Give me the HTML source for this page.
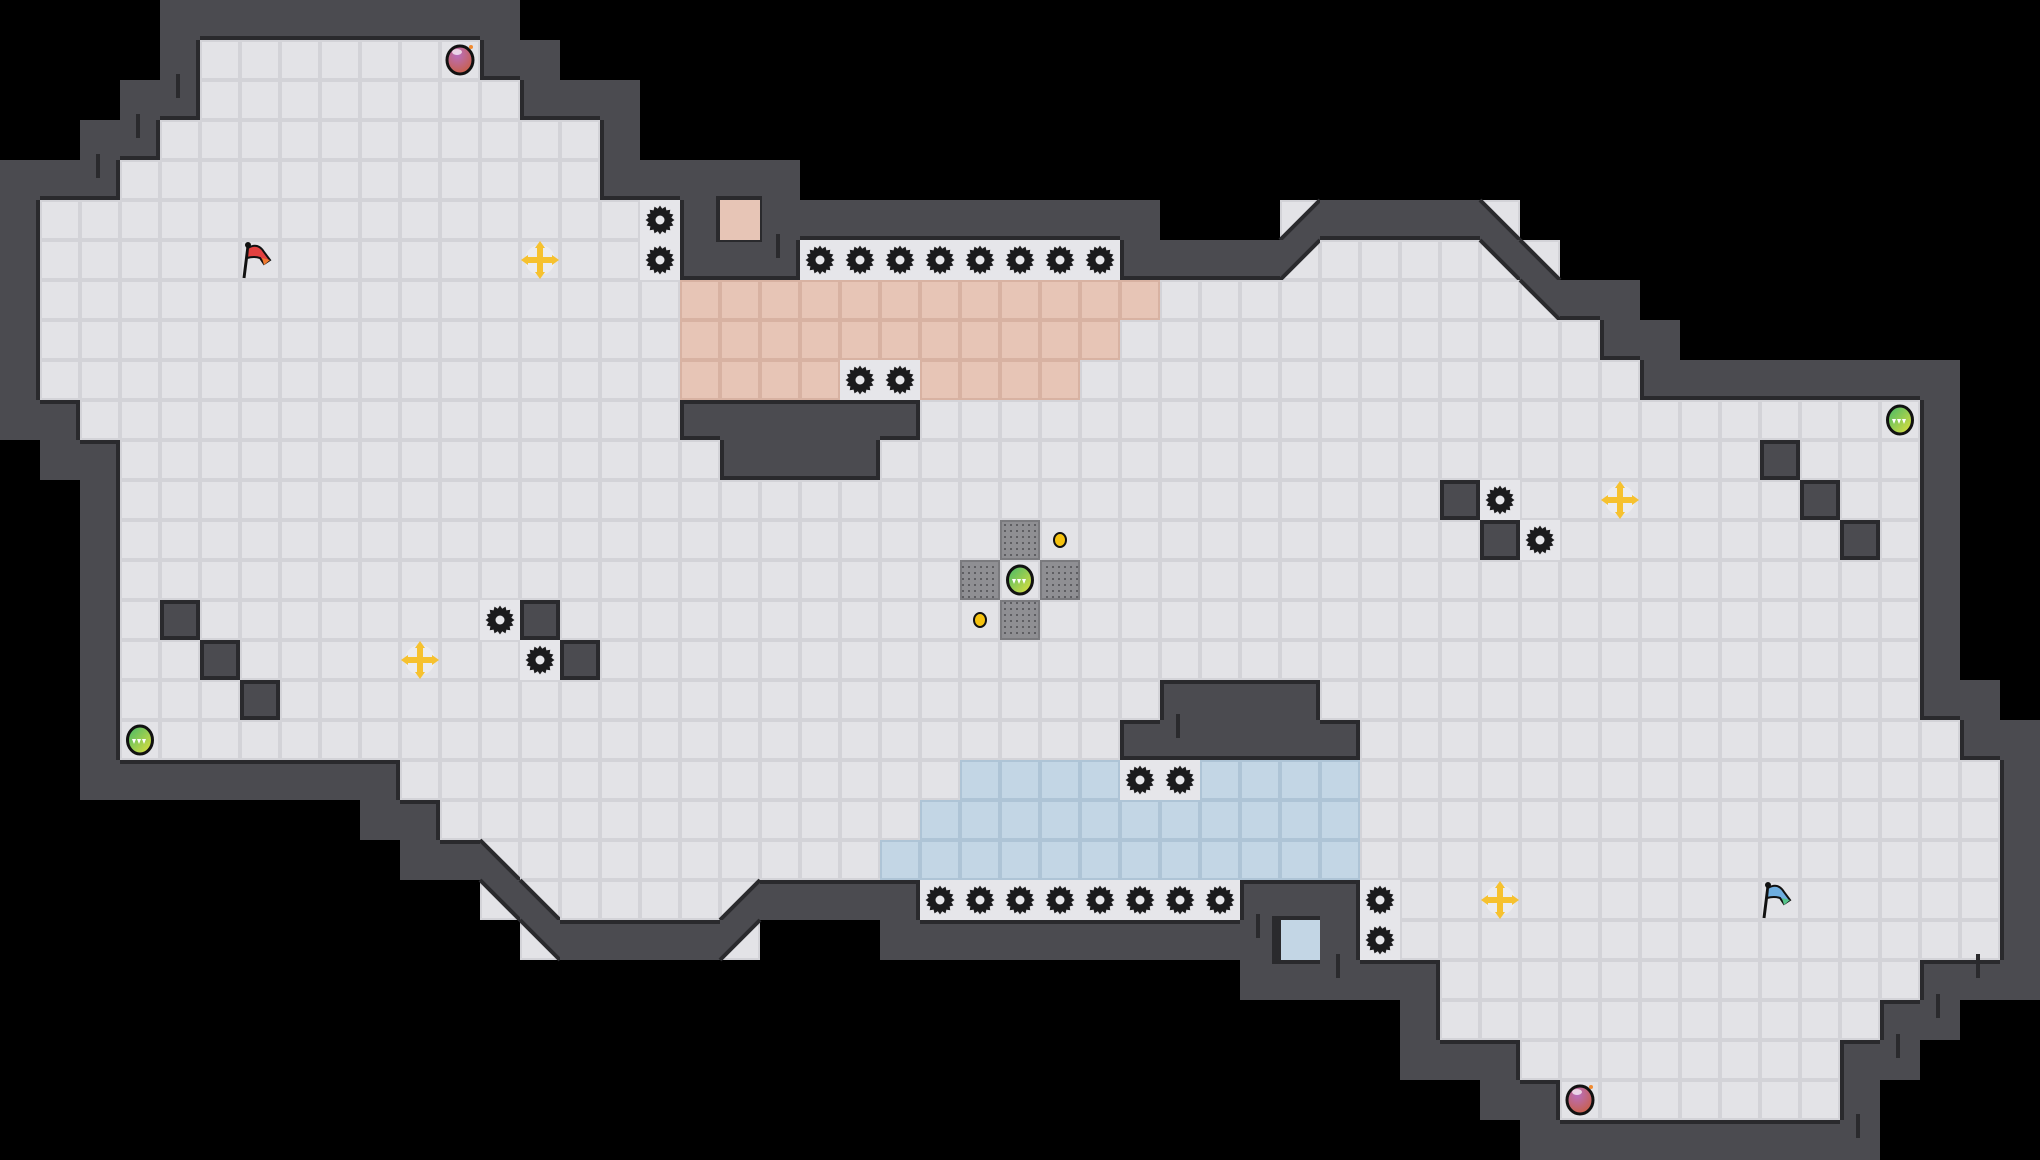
<!DOCTYPE html>
<html><head><meta charset="utf-8">
<style>
html,body{margin:0;padding:0;background:#000;}
#m{display:block;width:2040px;height:1160px;}
</style></head>
<body>
<div id="wrap"></div>
<script>
const W=51,H=29,S=40;
const g=[];for(let r=0;r<H;r++){g.push(new Array(W).fill(' '));}
function f(r,a,b,ch){for(let c=a;c<=b;c++)g[r][c]=ch;}
f(0,4,12,'#');
f(1,4,4,'#');f(1,5,11,'.');f(1,12,13,'#');
f(2,3,4,'#');f(2,5,12,'.');f(2,13,15,'#');
f(3,2,3,'#');f(3,4,14,'.');f(3,15,15,'#');
f(4,0,2,'#');f(4,3,14,'.');f(4,15,19,'#');
f(5,0,0,'#');f(5,1,16,'.');f(5,17,17,'#');f(5,18,18,'#');f(5,19,28,'#');g[5][32]='s';f(5,33,36,'#');g[5][37]='a';
f(6,0,0,'#');f(6,1,16,'.');f(6,17,19,'#');f(6,20,27,'.');f(6,28,31,'#');g[6][32]='q';f(6,33,36,'.');g[6][37]='w';g[6][38]='a';
f(7,0,0,'#');f(7,1,16,'.');f(7,17,28,'r');f(7,29,37,'.');g[7][38]='w';f(7,39,40,'#');
f(8,0,0,'#');f(8,1,16,'.');f(8,17,27,'r');f(8,28,39,'.');f(8,40,41,'#');
f(9,0,0,'#');f(9,1,16,'.');f(9,17,20,'r');f(9,21,22,'.');f(9,23,26,'r');f(9,27,40,'.');f(9,41,48,'#');
f(10,0,1,'#');f(10,2,16,'.');f(10,17,22,'#');f(10,23,47,'.');f(10,48,48,'#');
f(11,1,2,'#');f(11,3,17,'.');f(11,18,21,'#');f(11,22,47,'.');f(11,48,48,'#');g[11][44]='#';
for(let r=12;r<=16;r++){f(r,2,2,'#');f(r,3,47,'.');f(r,48,48,'#');}
g[12][36]='#';g[12][45]='#';g[13][37]='#';g[13][46]='#';g[15][4]='#';g[15][13]='#';g[16][5]='#';g[16][14]='#';
g[13][25]='d';g[14][24]='d';g[14][26]='d';g[15][25]='d';
f(17,2,2,'#');f(17,3,28,'.');f(17,29,32,'#');f(17,33,47,'.');f(17,48,49,'#');g[17][6]='#';
f(18,2,2,'#');f(18,3,27,'.');f(18,28,33,'#');f(18,34,48,'.');f(18,49,50,'#');
f(19,2,9,'#');f(19,10,23,'.');f(19,24,27,'b');f(19,28,29,'.');f(19,30,33,'b');f(19,34,49,'.');f(19,50,50,'#');
f(20,9,10,'#');f(20,11,22,'.');f(20,23,33,'b');f(20,34,49,'.');f(20,50,50,'#');
f(21,10,11,'#');g[21][12]='a';f(21,13,21,'.');f(21,22,33,'b');f(21,34,49,'.');f(21,50,50,'#');
g[22][12]='w';g[22][13]='a';f(22,14,17,'.');g[22][18]='s';f(22,19,22,'#');f(22,23,30,'.');f(22,31,33,'#');f(22,34,49,'.');f(22,50,50,'#');
g[23][13]='w';f(23,14,17,'#');g[23][18]='q';f(23,22,31,'#');g[23][32]='#';g[23][33]='#';f(23,34,49,'.');f(23,50,50,'#');
f(24,31,35,'#');f(24,36,47,'.');f(24,48,50,'#');
f(25,35,35,'#');f(25,36,46,'.');f(25,47,48,'#');
f(26,35,37,'#');f(26,38,45,'.');f(26,46,47,'#');
f(27,37,38,'#');f(27,39,45,'.');f(27,46,46,'#');
f(28,38,46,'#');

const WALL='#4b4b50',EDGE='#2a2a2d',FL='#e3e3e7';
let o=[];
o.push(`<svg id="m" xmlns="http://www.w3.org/2000/svg" width="2040" height="1160" viewBox="0 0 2040 1160">`);
o.push(`<defs><radialGradient id="pb" cx="40%" cy="30%" r="70%"><stop offset="0" stop-color="#b86fc0"/><stop offset="1" stop-color="#c9604a"/></radialGradient>
<linearGradient id="gb" x1="0" y1="0" x2="1" y2="1"><stop offset="0" stop-color="#3fb86a"/><stop offset="1" stop-color="#e8e03a"/></linearGradient>
<pattern id="dots" width="6" height="6" patternUnits="userSpaceOnUse"><rect width="6" height="6" fill="#8f8f93"/><rect x="2" y="2" width="2" height="2" fill="#5e5e62"/></pattern></defs>`);
o.push(`<rect width="2040" height="1160" fill="#000"/>`);
function tile(x,y,fill,edge){
  return `<rect x="${x}" y="${y}" width="40" height="40" fill="${fill}"/><rect x="${x+1}" y="${y+1}" width="38" height="38" fill="none" stroke="${edge}" stroke-width="2"/>`;
}
const isFloor=ch=>'.rbd'.includes(ch);
for(let r=0;r<H;r++)for(let c=0;c<W;c++){
  const ch=g[r][c],x=c*S,y=r*S;
  if(ch==='.')o.push(tile(x,y,FL,'#d3d3d8'));
  else if(ch==='r')o.push(tile(x,y,'#e7c5b6','#d8b2a2'));
  else if(ch==='b')o.push(tile(x,y,'#c3d6e5','#aec4d6'));
  else if(ch==='d')o.push(`<rect x="${x}" y="${y}" width="40" height="40" fill="url(#dots)"/><rect x="${x+1}" y="${y+1}" width="38" height="38" fill="none" stroke="#7a7a7e" stroke-width="2"/>`);
  else if(ch==='#'){
    o.push(`<rect x="${x}" y="${y}" width="40" height="40" fill="${WALL}"/>`);
  } else if('qwas'.includes(ch)){
    o.push(tile(x,y,FL,'#d3d3d8'));
    let p,l;
    if(ch==='q'){p=[[x,y],[x+S,y],[x,y+S]];l=[[x+S,y],[x,y+S]];}
    if(ch==='w'){p=[[x,y],[x+S,y],[x+S,y+S]];l=[[x,y],[x+S,y+S]];}
    if(ch==='a'){p=[[x,y],[x,y+S],[x+S,y+S]];l=[[x,y],[x+S,y+S]];}
    if(ch==='s'){p=[[x+S,y],[x+S,y+S],[x,y+S]];l=[[x+S,y],[x,y+S]];}
    o.push(`<polygon points="${p.map(a=>a.join(',')).join(' ')}" fill="${WALL}"/>`);
    o.push(`<line x1="${l[0][0]}" y1="${l[0][1]}" x2="${l[1][0]}" y2="${l[1][1]}" stroke="${EDGE}" stroke-width="4"/>`);
  }
}
for(let r=0;r<H;r++)for(let c=0;c<W;c++){
  if(g[r][c]!=='#')continue;const x=c*S,y=r*S;
  const n=(rr,cc)=>(rr>=0&&rr<H&&cc>=0&&cc<W)?g[rr][cc]:' ';
  if(isFloor(n(r-1,c)))o.push(`<rect x="${x}" y="${y}" width="40" height="4" fill="${EDGE}"/>`);
  if(isFloor(n(r+1,c)))o.push(`<rect x="${x}" y="${y+36}" width="40" height="4" fill="${EDGE}"/>`);
  if(isFloor(n(r,c-1)))o.push(`<rect x="${x}" y="${y}" width="4" height="40" fill="${EDGE}"/>`);
  if(isFloor(n(r,c+1)))o.push(`<rect x="${x+36}" y="${y}" width="4" height="40" fill="${EDGE}"/>`);
}
// inset peach / blue cells
o.push(`<rect x="716" y="196" width="46" height="46" fill="${EDGE}"/><rect x="720" y="200" width="40" height="40" fill="#e7c5b6"/>`);
o.push(`<rect x="1272" y="916" width="48" height="48" fill="${EDGE}"/><rect x="1281" y="920" width="39" height="40" fill="#c3d6e5"/>`);
// wall tick marks
[[176,74],[136,114],[96,154],[776,234],[1176,714],[1256,914],[1336,954],[1976,954],[1936,994],[1896,1034],[1856,1114]].forEach(p=>{
  o.push(`<rect x="${p[0]}" y="${p[1]}" width="4" height="24" fill="${EDGE}"/>`);
});
function gear(r,c){
  const cx=c*S+20,cy=r*S+20;let pts=[];const n=16;
  for(let i=0;i<n*2;i++){const a=Math.PI*i/n;const rad=i%2?11.5:14.5;pts.push((cx+rad*Math.cos(a)).toFixed(1)+','+(cy+rad*Math.sin(a)).toFixed(1));}
  o.push(`<rect x="${c*S}" y="${r*S}" width="40" height="40" fill="#e6e6ea"/><polygon points="${pts.join(' ')}" fill="#1b1b1d"/><circle cx="${cx}" cy="${cy}" r="4.5" fill="#e6e6ea"/>`);
}
[[5,16],[6,16],[9,21],[9,22],[12,37],[13,38],[15,12],[16,13],[19,28],[19,29],[22,34],[23,34]].forEach(a=>gear(a[0],a[1]));
for(let c=20;c<=27;c++)gear(6,c);
for(let c=23;c<=30;c++)gear(22,c);
function cross(r,c){
  const cx=c*S+20,cy=r*S+20;
  o.push(`<g fill="#f6c12e"><circle cx="${cx}" cy="${cy}" r="15" fill="#eeeef0" opacity="0.8"/><rect x="${cx-3}" y="${cy-14}" width="6" height="28"/><rect x="${cx-14}" y="${cy-3}" width="28" height="6"/>
  <polygon points="${cx},${cy-19} ${cx-5},${cy-12} ${cx+5},${cy-12}"/><polygon points="${cx},${cy+19} ${cx-5},${cy+12} ${cx+5},${cy+12}"/>
  <polygon points="${cx-19},${cy} ${cx-12},${cy-5} ${cx-12},${cy+5}"/><polygon points="${cx+19},${cy} ${cx+12},${cy-5} ${cx+12},${cy+5}"/></g>`);
}
[[6,13],[16,10],[12,40],[22,37]].forEach(a=>cross(a[0],a[1]));
function pball(r,c){const cx=c*S+20,cy=r*S+20;
  o.push(`<ellipse cx="${cx}" cy="${cy}" rx="13" ry="14" fill="url(#pb)" stroke="#111" stroke-width="3"/><ellipse cx="${cx-3}" cy="${cy-8}" rx="5" ry="3" fill="#fff" opacity="0.7"/><circle cx="${cx+11}" cy="${cy-13}" r="2" fill="#f08a30"/>`);}
pball(1,11);pball(27,39);
function gball(r,c){const cx=c*S+20,cy=r*S+20;
  o.push(`<ellipse cx="${cx}" cy="${cy}" rx="12.5" ry="14" fill="url(#gb)" stroke="#111" stroke-width="3"/><polygon points="${cx-8},${cy-1} ${cx-4},${cy-1} ${cx-6},${cy+4}" fill="#fff"/><polygon points="${cx-3},${cy-1} ${cx+1},${cy-1} ${cx-1},${cy+4}" fill="#fff"/><polygon points="${cx+2},${cy-1} ${cx+6},${cy-1} ${cx+4},${cy+4}" fill="#fff"/>`);}
gball(18,3);gball(14,25);gball(10,47);
function dot(r,c){const cx=c*S+20,cy=r*S+20;o.push(`<ellipse cx="${cx}" cy="${cy}" rx="6" ry="7" fill="#f5c20f" stroke="#111" stroke-width="2"/>`);}
dot(13,26);dot(15,24);
function flag(r,c,col,col2){const x=c*S,y=r*S;
  o.push(`<line x1="${x+4}" y1="${y+38}" x2="${x+8}" y2="${y+6}" stroke="#111" stroke-width="3"/><circle cx="${x+8}" cy="${y+5}" r="3" fill="#111"/>
  <path d="M${x+8},${y+8} Q${x+18},${y+2} ${x+24},${y+12} L${x+30},${y+20} L${x+24},${y+24} L${x+20},${y+18} Q${x+14},${y+16} ${x+7},${y+18} Z" fill="${col}" stroke="#111" stroke-width="2"/><path d="M${x+22},${y+18} L${x+30},${y+20} L${x+24},${y+25} Z" fill="${col2}"/>`);}
flag(6,6,'#e2403f','#f07a30');flag(22,44,'#6eaee0','#55c48a');
o.push('</svg>');
document.getElementById('wrap').innerHTML=o.join('');
</script>
</body></html>
